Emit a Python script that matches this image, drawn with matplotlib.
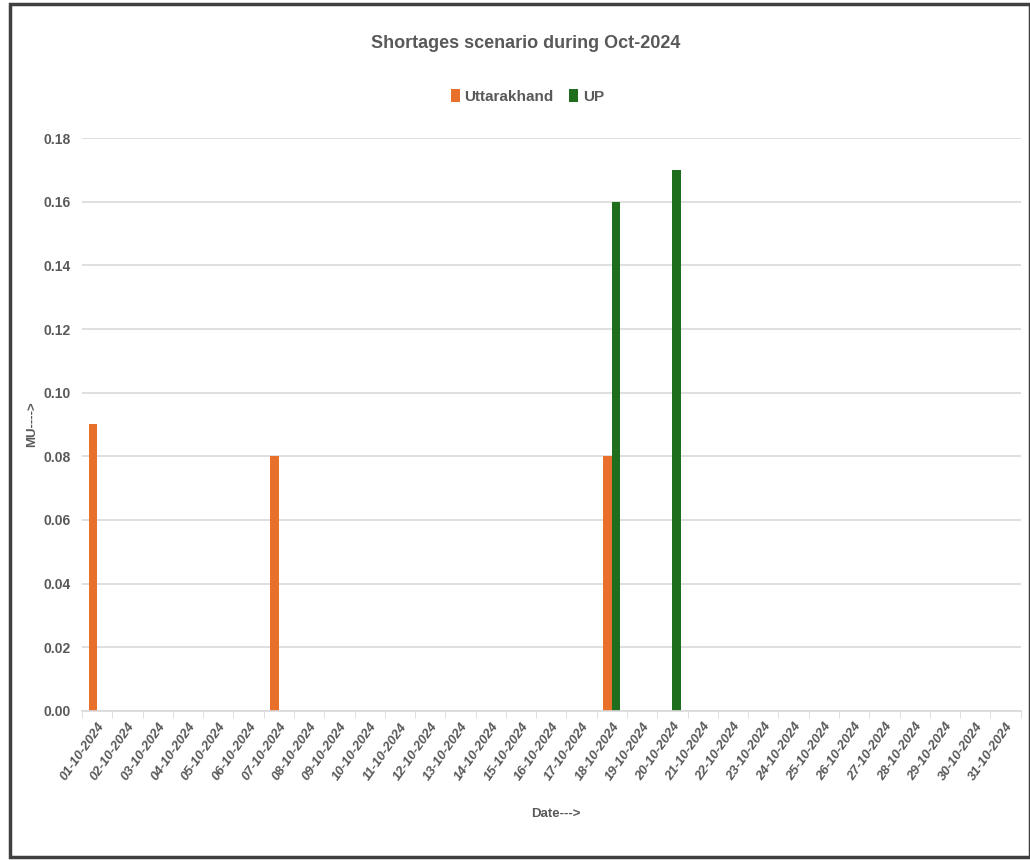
import matplotlib
matplotlib.use("Agg")
import matplotlib.pyplot as plt
from matplotlib.patches import Rectangle
import numpy as np

plt.rcParams['font.family'] = ['Liberation Sans', 'DejaVu Sans']

dates = [f"{d:02d}-10-2024" for d in range(1, 32)]
uttarakhand = [0.09, 0, 0, 0, 0, 0, 0.08, 0, 0, 0, 0, 0, 0, 0, 0, 0, 0, 0.08,
               0, 0, 0, 0, 0, 0, 0, 0, 0, 0, 0, 0, 0]
up = [0, 0, 0, 0, 0, 0, 0, 0, 0, 0, 0, 0, 0, 0, 0, 0, 0, 0.16,
      0, 0.17, 0, 0, 0, 0, 0, 0, 0, 0, 0, 0, 0]
yticks = [0.00, 0.02, 0.04, 0.06, 0.08, 0.10, 0.12, 0.14, 0.16, 0.18]

orange = "#E8702A"
green = "#1E6E1E"
text_col = "#595959"

fig = plt.figure(figsize=(10.3, 8.6), dpi=100)
ax = fig.add_axes([0.0796, 0.1733, 0.9114, 0.6662])

x = np.arange(len(dates))
w = 0.28
ax.bar(x - w / 2, uttarakhand, width=w, color=orange, label="Uttarakhand")
ax.bar(x + w / 2, up, width=w, color=green, label="UP")

ax.set_xlim(-0.5, len(dates) - 0.5)
ax.set_ylim(0, 0.18)
ax.set_yticks(yticks)
ax.set_yticklabels([f"{v:.2f}" for v in yticks], fontsize=10, color=text_col,
                   fontweight='bold')
ax.set_xticks(x)
ax.set_xticklabels(dates, rotation=55, ha='right', rotation_mode='anchor',
                   fontsize=9.5, color=text_col, fontstyle='italic', fontweight='bold')
ax.set_xticks(np.arange(-0.5, len(dates) + 0.5, 1), minor=True)
ax.tick_params(axis='x', which='major', length=0, pad=7)
ax.tick_params(axis='x', which='minor', length=5, color="#d9d9d9")
ax.tick_params(axis='y', length=0, pad=8)

ax.grid(axis='y', color="#d9d9d9", linewidth=1.2)
ax.set_axisbelow(True)
for s in ['top', 'right', 'left']:
    ax.spines[s].set_visible(False)
ax.spines['bottom'].set_color("#d9d9d9")
ax.spines['bottom'].set_linewidth(1.2)

ax.set_ylabel("MU---->", fontsize=9.5, color=text_col, fontweight='bold')
ax.yaxis.set_label_coords(-0.047, 0.5)
ax.set_xlabel("Date--->", fontsize=9.5, color=text_col, fontweight='bold')
ax.xaxis.set_label_coords(0.505, -0.17)

fig.text(0.51, 0.949, "Shortages scenario during Oct-2024", ha='center', va='center',
         fontsize=13, color=text_col, fontweight='bold')
fig.legend(loc='center', bbox_to_anchor=(0.512, 0.888), ncol=2, frameon=False,
           handlelength=0.6, handleheight=0.9, handletextpad=0.3,
           columnspacing=1.0, labelcolor=text_col, prop={'weight': 'bold', 'size': 11})

fig.patches.append(Rectangle((0.0097, 0.003), 0.99, 0.992, transform=fig.transFigure,
                             fill=False, edgecolor="#404040", linewidth=2.5))

fig.savefig("out.png", dpi=100, facecolor='white')
